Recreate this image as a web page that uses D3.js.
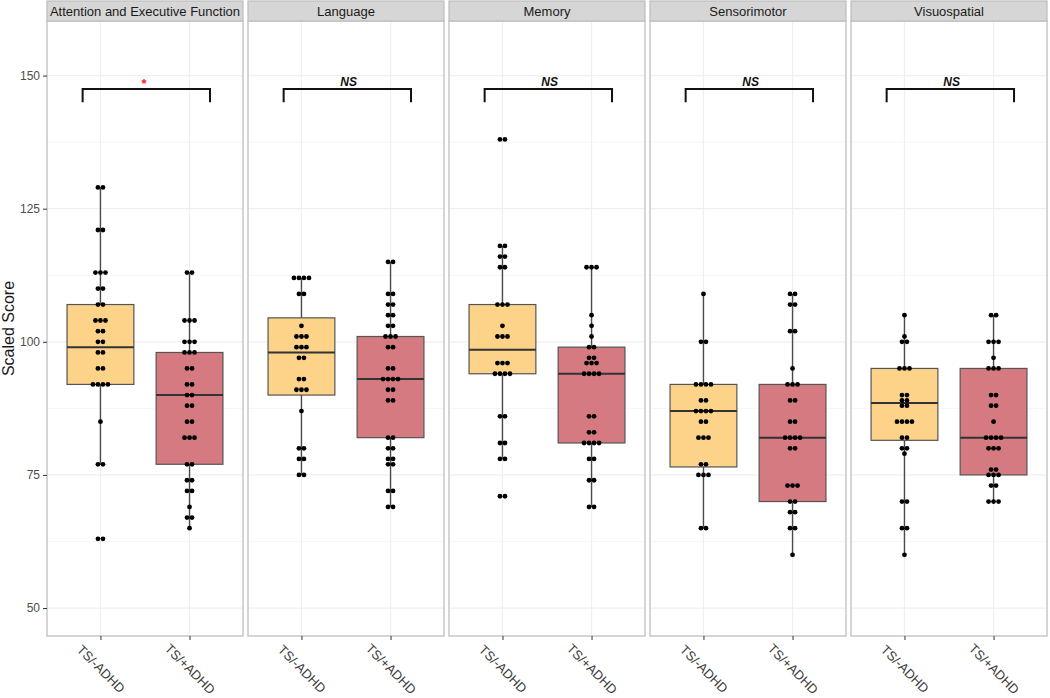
<!DOCTYPE html>
<html>
<head>
<meta charset="utf-8">
<script src="https://cdn.jsdelivr.net/npm/d3@7"></script>
<style>
  body { margin: 0; background: #fff; }
  text { font-family: "Liberation Sans", Arial, sans-serif; }
</style>
</head>
<body>
<script>
// ---------------- data ----------------
const domains = ["Attention and Executive Function", "Language", "Memory", "Sensorimotor", "Visuospatial"];
const groups = ["TS/-ADHD", "TS/+ADHD"];
const yTicks = [50, 75, 100, 125, 150];
const yMinorTicks = [62.5, 87.5, 112.5, 137.5];
const significance = ["*", "NS", "NS", "NS", "NS"];

// box stats: [lower whisker, Q1, median, Q3, upper whisker]
const boxNoAdhd = [
  [77, 92, 99, 107, 129],
  [75, 90, 98, 104.5, 112],
  [78, 94, 98.5, 107, 118],
  [65, 76.5, 87, 92, 109],
  [60, 81.5, 88.5, 95, 105]
];
const boxAdhd = [
  [65, 77, 90, 98, 113],
  [69, 82, 93, 101, 115],
  [69, 81, 94, 99, 114],
  [60, 70, 82, 92, 109],
  [70, 75, 82, 95, 105]
];

// individual scores
const attentionNoAdhd = [129,129,121,121,113,113,113,110,110,107,107,104,104,104,102,102,100,100,98,98,95,95,92,92,92,92,85,77,77,63,63];
const attentionAdhd   = [113,113,104,104,104,100,100,100,98,98,98,95,95,92,92,90,90,88,88,85,85,82,82,82,77,77,74,74,72,72,69,67,67,65];
const languageNoAdhd  = [112,112,112,112,109,109,103,101,101,101,99,99,99,97,97,93,93,91,91,91,87,80,80,78,78,75,75];
const languageAdhd    = [115,115,109,109,107,107,105,105,103,103,101,101,101,99,99,95,95,93,93,93,93,91,91,89,89,82,82,80,80,78,78,77,77,72,72,69,69];
const memoryNoAdhd    = [138,138,118,118,116,116,114,114,107,107,107,103,101,101,101,96,96,96,94,94,94,94,86,86,81,81,78,78,71,71];
const memoryAdhd      = [114,114,114,105,103,101,99,99,97,97,96,96,96,94,94,94,94,86,86,83,83,81,81,81,81,78,78,74,74,69,69];
const sensoriNoAdhd   = [109,100,100,92,92,92,92,89,89,87,87,87,87,85,85,82,82,82,77,77,75,75,75,65,65];
const sensoriAdhd     = [109,109,107,107,102,102,95,92,92,92,89,89,85,85,82,82,82,82,80,80,73,73,73,70,70,68,68,65,65,60];
const visuoNoAdhd     = [105,101,100,100,95,95,95,90,90,89,89,88,88,85,85,85,85,82,82,80,80,79,70,70,65,65,60];
const visuoAdhd       = [105,105,100,100,100,97,95,95,95,90,90,88,88,85,82,82,82,82,80,80,80,76,76,75,75,75,73,73,70,70,70];

const scoresNoAdhd = [attentionNoAdhd, languageNoAdhd, memoryNoAdhd, sensoriNoAdhd, visuoNoAdhd];
const scoresAdhd = [attentionAdhd, languageAdhd, memoryAdhd, sensoriAdhd, visuoAdhd];

// ---------------- drawing ----------------
const W = 1050, H = 698;
const panelTop = 21, panelBottom = 636, stripTop = 1, stripH = 20;
const fills = ["#FDD38A", "#D47A80"];

const svg = d3.select("body").append("svg").attr("width", W).attr("height", H);

const fx = d3.scaleBand().domain(domains).range([47, 1047]).paddingInner(0.025);
const bw = fx.bandwidth();
const y = d3.scaleLinear().domain([44.75, 160.25]).range([panelBottom, panelTop]);
const xp = d3.scalePoint().domain(groups).range([0, bw]).padding(0.6);
const xl = d3.scaleLinear().domain([0.4, 2.6]).range([0, bw]);
const boxW = xp.step() * 0.75;

domains.forEach((dom, i) => {
  const g = svg.append("g").attr("transform", `translate(${fx(dom)},0)`);

  g.append("rect").attr("x", 0).attr("y", panelTop).attr("width", bw)
    .attr("height", panelBottom - panelTop).attr("fill", "#fff");

  // grid
  g.selectAll(".minor").data(yMinorTicks).join("line")
    .attr("x1", 0).attr("x2", bw).attr("y1", d => y(d)).attr("y2", d => y(d))
    .attr("stroke", "#F6F6F6").attr("stroke-width", 1);
  g.selectAll(".major").data(yTicks).join("line")
    .attr("x1", 0).attr("x2", bw).attr("y1", d => y(d)).attr("y2", d => y(d))
    .attr("stroke", "#EFEFEF").attr("stroke-width", 1.2);
  g.selectAll(".vgrid").data(groups).join("line")
    .attr("x1", d => xp(d)).attr("x2", d => xp(d)).attr("y1", panelTop).attr("y2", panelBottom)
    .attr("stroke", "#EFEFEF").attr("stroke-width", 1.2);

  const stats = [boxNoAdhd[i], boxAdhd[i]];
  const scores = [scoresNoAdhd[i], scoresAdhd[i]];

  groups.forEach((grp, j) => {
    const s = stats[j];
    const cx = xp(grp);
    // whisker
    g.append("line").attr("x1", cx).attr("x2", cx).attr("y1", y(s[0])).attr("y2", y(s[4]))
      .attr("stroke", "#4a4a4a").attr("stroke-width", 1.4);
    // box
    g.append("rect").attr("x", cx - boxW / 2).attr("width", boxW)
      .attr("y", y(s[3])).attr("height", y(s[1]) - y(s[3]))
      .attr("fill", fills[j]).attr("stroke", "#555").attr("stroke-width", 1.2);
    // median
    g.append("line").attr("x1", cx - boxW / 2).attr("x2", cx + boxW / 2)
      .attr("y1", y(s[2])).attr("y2", y(s[2]))
      .attr("stroke", "#333").attr("stroke-width", 2);

    // points: dodge identical values side by side
    const byVal = d3.group(scores[j], v => v);
    const pts = [];
    byVal.forEach((arr, v) => {
      const n = arr.length;
      arr.forEach((_, k) => pts.push({ v, off: (k - (n - 1) / 2) * 5 }));
    });
    g.selectAll(null).data(pts).join("circle")
      .attr("cx", d => cx + d.off).attr("cy", d => y(d.v)).attr("r", 2.4)
      .attr("fill", "#000");
  });

  // significance bracket
  g.append("path")
    .attr("d", `M${xl(0.8)},${y(145)}V${y(147.5)}H${xl(2.23)}V${y(145)}`)
    .attr("fill", "none").attr("stroke", "#111").attr("stroke-width", 2);
  const sig = significance[i];
  if (sig === "*") {
    g.append("text").attr("x", xl(1.49)).attr("y", y(147.5) - 0.5)
      .attr("text-anchor", "middle").attr("font-size", 13).attr("font-weight", "bold")
      .attr("fill", "#FF2020").text(sig);
  } else {
    g.append("text").attr("x", xl(1.53)).attr("y", y(147.5) - 3)
      .attr("text-anchor", "middle").attr("font-size", 12).attr("font-weight", "bold")
      .attr("font-style", "italic").attr("fill", "#111").text(sig);
  }

  // panel border
  g.append("rect").attr("x", 0).attr("y", panelTop).attr("width", bw)
    .attr("height", panelBottom - panelTop).attr("fill", "none")
    .attr("stroke", "#C4C4C4").attr("stroke-width", 1.4);

  // strip
  g.append("rect").attr("x", 0).attr("y", stripTop).attr("width", bw).attr("height", stripH)
    .attr("fill", "#D6D6D6").attr("stroke", "#BDBDBD").attr("stroke-width", 1.2);
  g.append("text").attr("x", bw / 2).attr("y", stripTop + stripH / 2 + 4.6)
    .attr("text-anchor", "middle").attr("font-size", 13).attr("fill", "#1a1a1a").text(dom);

  // x axis
  const xa = g.append("g").attr("transform", `translate(0,${panelBottom})`)
    .call(d3.axisBottom(xp).tickSize(4));
  xa.select(".domain").remove();
  xa.selectAll(".tick line").attr("stroke", "#333");
  xa.selectAll(".tick text")
    .attr("y", 0).attr("dy", 0)
    .attr("transform", "translate(0,33) rotate(45)")
    .attr("text-anchor", "middle").attr("dominant-baseline", "central")
    .attr("font-size", 13).attr("fill", "#3a3a3a")
    .style("font-family", "Liberation Sans, Arial, sans-serif");
});

// y axis
const ya = svg.append("g").attr("transform", `translate(${fx(domains[0])},0)`)
  .call(d3.axisLeft(y).tickValues(yTicks).tickSize(4).tickPadding(3));
ya.select(".domain").remove();
ya.selectAll(".tick line").attr("stroke", "#333");
ya.selectAll(".tick text").attr("font-size", 12).attr("fill", "#4D4D4D")
  .style("font-family", "Liberation Sans, Arial, sans-serif");

svg.append("text")
  .attr("transform", `translate(14,${(panelTop + panelBottom) / 2}) rotate(-90)`)
  .attr("text-anchor", "middle").attr("font-size", 16).attr("fill", "#1a1a1a")
  .text("Scaled Score");
</script>
</body>
</html>
